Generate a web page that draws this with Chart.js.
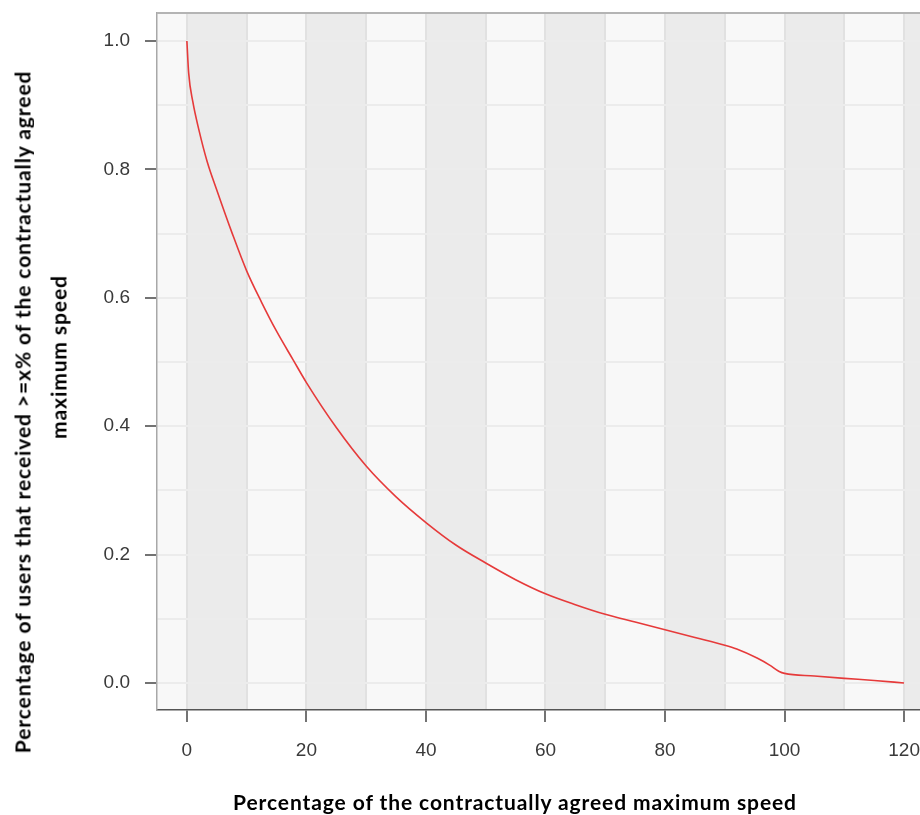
<!DOCTYPE html>
<html>
<head>
<meta charset="utf-8">
<script src="https://cdn.jsdelivr.net/npm/chart.js@4.4.1/dist/chart.umd.min.js"></script>
<style>
  html, body { margin: 0; padding: 0; background: #fff; overflow: hidden; }
  #wrap { position: relative; width: 920px; height: 815px; overflow: hidden; }
  #grafico { position: absolute; left: 0; top: 0; }
  .titulo { position: absolute; font-family: Lato, "Open Sans", sans-serif; font-weight: bold;
            font-size: 21px; letter-spacing: 0.9px; color: #000; white-space: nowrap; }
</style>
</head>
<body>
<div id="wrap">
  <canvas id="grafico" width="940" height="815"></canvas>
  <div class="titulo" id="tituloY1" style="left:22px; top:412px; transform: translate(-50%,-50%) rotate(-90deg);">Percentage of users that received &gt;=x% of the contractually agreed</div>
  <div class="titulo" id="tituloY2" style="left:58px; top:357px; transform: translate(-50%,-50%) rotate(-90deg);">maximum speed</div>
  <div class="titulo" id="tituloX" style="left:515px; top:801px; transform: translate(-50%,-50%);">Percentage of the contractually agreed maximum speed</div>
</div>
<script>
// Datos
const velocidad = [0, 0.3, 1, 2, 3.4, 5, 7.6, 10, 12.5, 15, 17.8, 20, 25, 30, 35, 40, 45, 50,
                   55, 60, 65, 70, 75, 80, 85, 90, 92, 95.4, 97.5, 99.1, 100, 105, 110, 115, 120];
const usuarios = [1.0, 0.95, 0.905, 0.862, 0.812, 0.768, 0.70, 0.642, 0.593, 0.548, 0.503, 0.468, 0.398, 0.338, 0.29, 0.250, 0.215, 0.187,
                  0.161, 0.139, 0.122, 0.107, 0.095, 0.083, 0.071, 0.059, 0.053, 0.039, 0.028, 0.018, 0.015, 0.011, 0.0073, 0.004, 0.0];
const ticksX = [0, 20, 40, 60, 80, 100, 120];
const ticksY = [0.0, 0.2, 0.4, 0.6, 0.8, 1.0];
const bandas = [0, 20, 40, 60, 80, 100, 120]; // inicio de cada franja gris de 10 unidades

const puntos = velocidad.map((v, i) => ({ x: v, y: usuarios[i] }));

// Franjas verticales y borde superior del panel
const pluginPanel = {
    id: 'panel',
    beforeDraw(chart) {
        const { ctx, chartArea: a, scales: { x } } = chart;
        ctx.save();
        ctx.fillStyle = '#f8f8f8';
        ctx.fillRect(a.left, a.top, a.right - a.left, a.bottom - a.top);
        ctx.fillStyle = '#ebebeb';
        bandas.forEach(b => {
            const x0 = Math.max(a.left, x.getPixelForValue(b));
            const x1 = Math.min(a.right, x.getPixelForValue(b + 10));
            if (x1 > x0) ctx.fillRect(x0, a.top, x1 - x0, a.bottom - a.top);
        });
        ctx.restore();
    },
    afterDraw(chart) {
        const { ctx, chartArea: a } = chart;
        ctx.save();
        ctx.strokeStyle = '#b4b4b4';
        ctx.lineWidth = 2;
        ctx.beginPath();
        ctx.moveTo(a.left, a.top);
        ctx.lineTo(a.right, a.top);
        ctx.stroke();
        ctx.restore();
    }
};

const esTickX = v => ticksX.some(t => Math.abs(t - v) < 1e-6);
const esTickY = v => ticksY.some(t => Math.abs(t - v) < 1e-6);
const fuenteTicks = { family: '"Liberation Sans", Arial, sans-serif', size: 19 };

new Chart(document.getElementById('grafico'), {
    type: 'line',
    data: {
        datasets: [{
            data: puntos,
            borderColor: '#e63a3a',
            borderWidth: 1.6,
            pointRadius: 0,
            cubicInterpolationMode: 'monotone',
            fill: false
        }]
    },
    options: {
        responsive: false,
        animation: false,
        layout: { padding: { left: 0, top: 13, right: 12, bottom: 0 } },
        plugins: { legend: { display: false }, tooltip: { enabled: false } },
        scales: {
            x: {
                type: 'linear',
                min: -5,
                max: 124,
                afterFit: s => { s.height = 105; s.paddingLeft = 0; s.paddingRight = 0; },
                border: { color: '#555', width: 1.5 },
                grid: {
                    color: '#e1e1e1',
                    lineWidth: 2,
                    tickLength: 12,
                    tickWidth: 1.5,
                    tickColor: c => esTickX(c.tick.value) ? '#444' : 'rgba(0,0,0,0)'
                },
                ticks: {
                    stepSize: 10,
                    includeBounds: false,
                    autoSkip: false,
                    maxRotation: 0,
                    padding: 17,
                    color: '#3a3a3a',
                    font: fuenteTicks,
                    callback: v => esTickX(v) ? String(v) : ''
                }
            },
            y: {
                type: 'linear',
                min: -0.042,
                max: 1.0436,
                afterFit: s => { s.width = 157; s.paddingTop = 0; s.paddingBottom = 0; },
                border: { color: '#a8a8a8', width: 1.5 },
                grid: {
                    color: '#ececec',
                    lineWidth: 2,
                    tickLength: 12,
                    tickWidth: 1.5,
                    tickColor: c => esTickY(c.tick.value) ? '#444' : 'rgba(0,0,0,0)'
                },
                ticks: {
                    stepSize: 0.1,
                    includeBounds: false,
                    autoSkip: false,
                    padding: 15,
                    color: '#3a3a3a',
                    font: fuenteTicks,
                    callback: v => esTickY(v) ? v.toFixed(1) : ''
                }
            }
        }
    },
    plugins: [pluginPanel]
});
</script>
</body>
</html>
